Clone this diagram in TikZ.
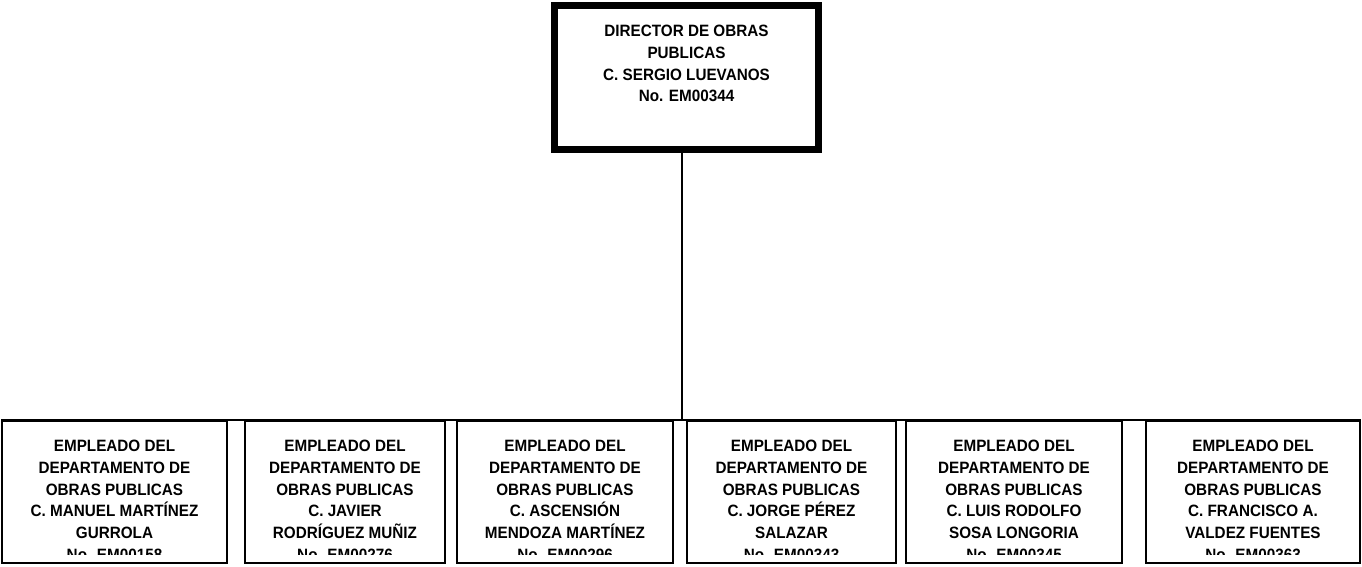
\documentclass[tikz,border=0pt]{standalone}
\usepackage{fontspec}
\setmainfont{Liberation Sans}[FakeStretch=0.93]
\usepackage{tikz}
\usetikzlibrary{calc,positioning}
\newcommand{\linecolor}{black}
\newcommand{\thin}{1.6pt}
\newcommand{\thick}{7pt}
\newcommand{\h}{142}

\begin{document}
\begin{tikzpicture}[x=1pt,y=-1pt,
  dirbox/.style={draw=\linecolor, line width=\thick, minimum width=264pt, minimum height=144pt, inner sep=0pt},
  empbox/.style={draw=\linecolor, line width=\thin, minimum height=\h pt, inner sep=0pt},
  txt/.style={align=center, inner sep=0pt, anchor=north, font=\fontsize{16.4}{21.7}\selectfont\bfseries}]
\useasboundingbox (0,0) rectangle (1362,566);
%director
\node (dir) at (686.5, 77.5) [dirbox] {};
\node (tdir) at (686.5, 25) [txt] {DIRECTOR DE OBRAS\\PUBLICAS\\C. SERGIO LUEVANOS\\No. EM00344};
%empleados
\node (e1) at (114.5, 492) [empbox, minimum width=225pt] {};
\node (e2) at (345.0, 492) [empbox, minimum width=200pt] {};
\node (e3) at (565.0, 492) [empbox, minimum width=216pt] {};
\node (e4) at (791.5, 492) [empbox, minimum width=209pt] {};
\node (e5) at (1014.0, 492) [empbox, minimum width=216pt] {};
\node (e6) at (1253.0, 492) [empbox, minimum width=214pt] {};
\begin{scope}
\clip (0,421) rectangle (1362,554);
\node (t1) at (114.5, 440) [txt] {EMPLEADO DEL\\DEPARTAMENTO DE\\OBRAS PUBLICAS\\C. MANUEL MARTÍNEZ\\GURROLA\\No. EM00158};
\node (t2) at (345.0, 440) [txt] {EMPLEADO DEL\\DEPARTAMENTO DE\\OBRAS PUBLICAS\\C. JAVIER\\RODRÍGUEZ MUÑIZ\\No. EM00276};
\node (t3) at (565.0, 440) [txt] {EMPLEADO DEL\\DEPARTAMENTO DE\\OBRAS PUBLICAS\\C. ASCENSIÓN\\MENDOZA MARTÍNEZ\\No. EM00296};
\node (t4) at (791.5, 440) [txt] {EMPLEADO DEL\\DEPARTAMENTO DE\\OBRAS PUBLICAS\\C. JORGE PÉREZ\\SALAZAR\\No. EM00343};
\node (t5) at (1014.0, 440) [txt] {EMPLEADO DEL\\DEPARTAMENTO DE\\OBRAS PUBLICAS\\C. LUIS RODOLFO\\SOSA LONGORIA\\No. EM00345};
\node (t6) at (1253.0, 440) [txt] {EMPLEADO DEL\\DEPARTAMENTO DE\\OBRAS PUBLICAS\\C. FRANCISCO A.\\VALDEZ FUENTES\\No. EM00363};
\end{scope}
%conectores
\coordinate (bar) at (682, 421);
\draw[\linecolor, line width=\thin] (dir.south -| bar) -- (bar);
\draw[\linecolor, line width=\thin] (e1.north west) -- (e6.north east);
\end{tikzpicture}
\end{document}
